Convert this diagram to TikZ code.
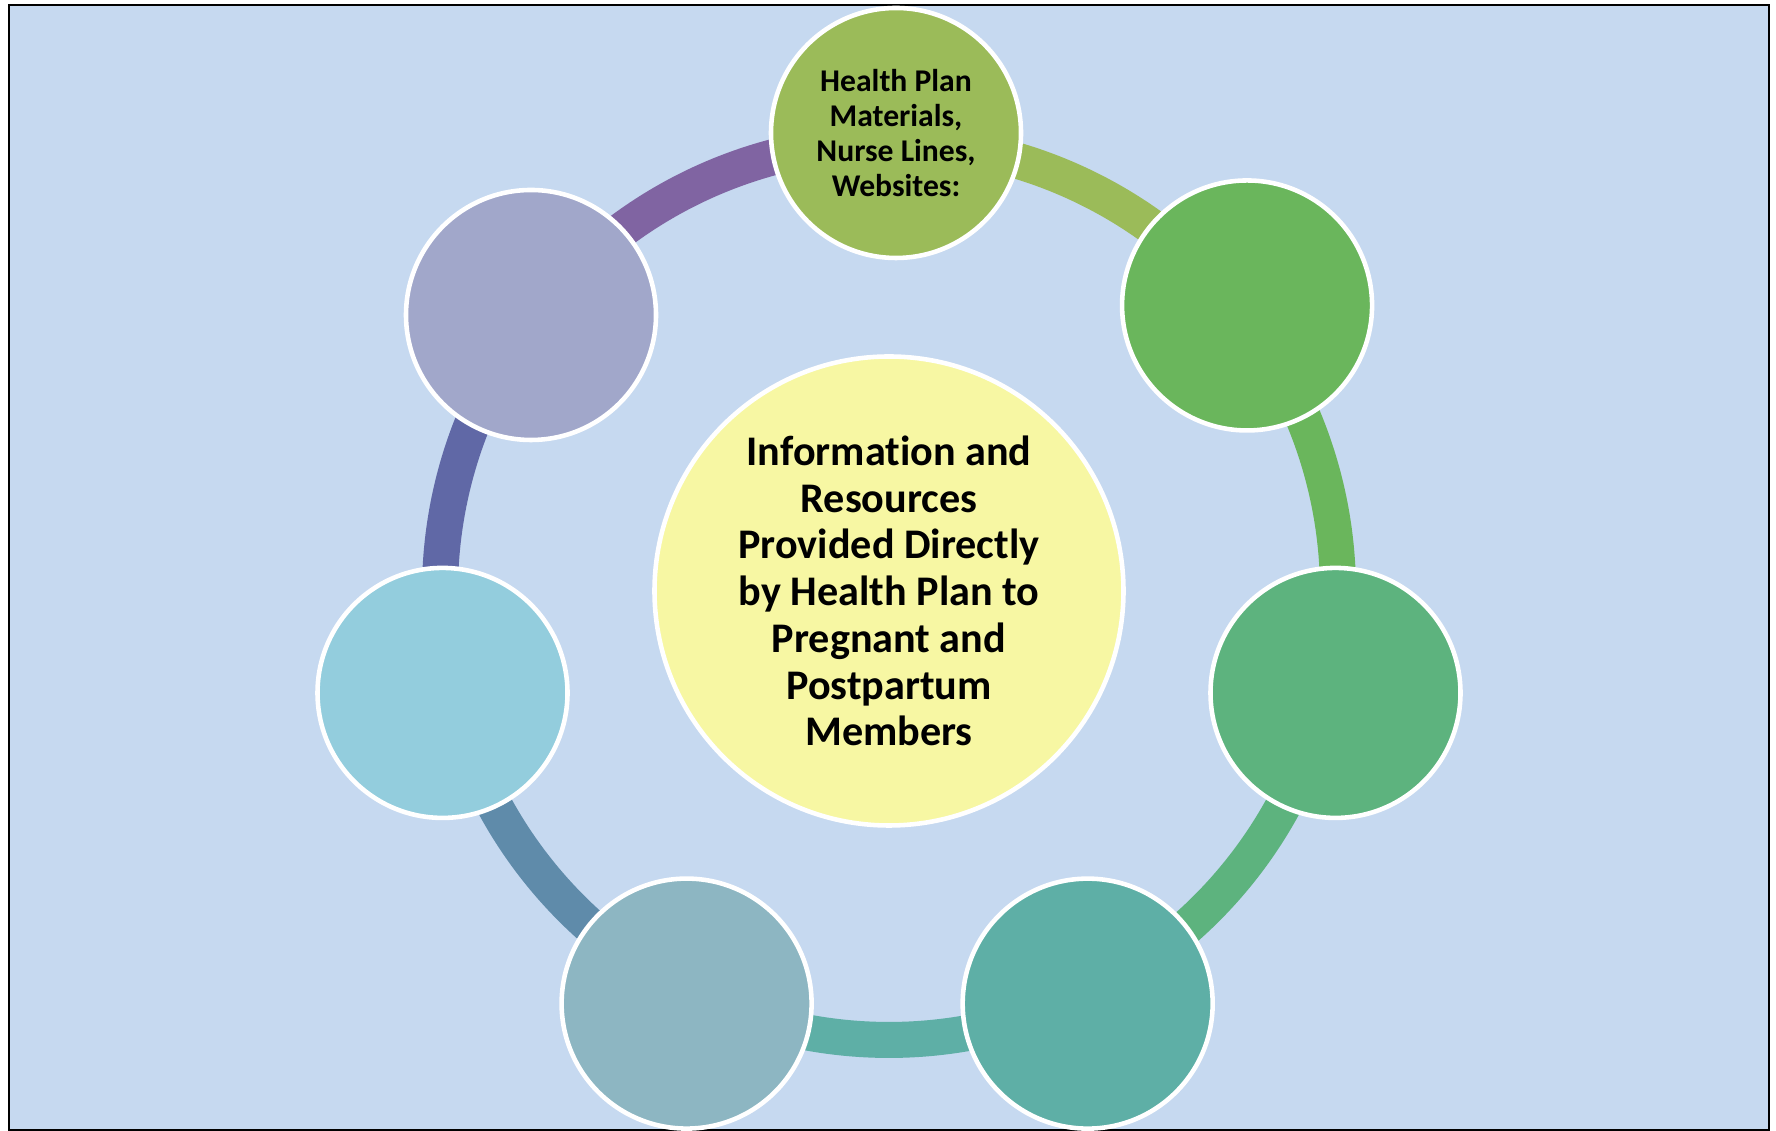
\documentclass[tikz,border=0pt]{standalone}
\usepackage{fontspec}
\setmainfont{Carlito}[Ligatures=NoCommon]
\definecolor{bgblue}{HTML}{C6D9F0}
\definecolor{hubyellow}{HTML}{F7F7A3}
\definecolor{petalA}{HTML}{9BBB59}
\definecolor{petalB}{HTML}{6AB65C}
\definecolor{petalC}{HTML}{5DB37E}
\definecolor{petalD}{HTML}{5EAFA6}
\definecolor{petalE}{HTML}{8DB6C2}
\definecolor{petalF}{HTML}{93CDDD}
\definecolor{petalG}{HTML}{A1A7CA}
\definecolor{arcE}{HTML}{5F8BAA}
\definecolor{arcF}{HTML}{6068A6}
\definecolor{arcG}{HTML}{8064A2}
\tikzset{
  petal/.style={circle, draw=white, line width=1.3pt, minimum size=25mm, inner sep=0pt,
    align=center, font=\bfseries\fontsize{9}{9.9}\selectfont},
  hubdisc/.style={circle, draw=white, fill=hubyellow, line width=1.3pt, minimum size=46.9mm,
    inner sep=0pt, align=center, font=\bfseries\fontsize{12}{13.3}\selectfont},
  ringarc/.style={line width=3.6mm}
}
\begin{document}
\begin{tikzpicture}[x=0.1mm,y=0.1mm]
  \useasboundingbox (0,0) rectangle (1776,1131);
  \draw[line width=0.7pt, fill=bgblue] (9,1) rectangle (1769,1126);
  % centre disc
  \node[hubdisc] (hub) at (889,540) {Information and\\Resources\\Provided Directly\\by Health Plan to\\Pregnant and\\Postpartum\\Members};
  % ring segments, under the petals
  \draw[ringarc, draw=petalA] ([shift={(90:449)}]hub.center) arc[start angle=90, end angle=38.57, radius=449];
  \draw[ringarc, draw=petalB] ([shift={(38.57:449)}]hub.center) arc[start angle=38.57, end angle=-12.86, radius=449];
  \draw[ringarc, draw=petalC] ([shift={(-12.86:449)}]hub.center) arc[start angle=-12.86, end angle=-64.29, radius=449];
  \draw[ringarc, draw=petalD] ([shift={(-64.29:449)}]hub.center) arc[start angle=-64.29, end angle=-115.71, radius=449];
  \draw[ringarc, draw=arcE] ([shift={(-115.71:449)}]hub.center) arc[start angle=-115.71, end angle=-167.14, radius=449];
  \draw[ringarc, draw=arcF] ([shift={(192.86:449)}]hub.center) arc[start angle=192.86, end angle=141.43, radius=449];
  \draw[ringarc, draw=arcG] ([shift={(141.43:449)}]hub.center) arc[start angle=141.43, end angle=90, radius=449];
  % petals
  \node[petal, fill=petalA] (materials) at ([shift={(7,458)}]hub.center) {Health Plan\\Materials,\\Nurse Lines,\\Websites:};
  \node[petal, fill=petalB] (petalupright) at ([shift={(38.57:458)}]hub.center) {};
  \node[petal, fill=petalC] (petalright) at ([shift={(-12.86:458)}]hub.center) {};
  \node[petal, fill=petalD] (petaldownright) at ([shift={(-64.29:458)}]hub.center) {};
  \node[petal, fill=petalE] (petaldownleft) at ([shift={(-202.4,-412.6)}]hub.center) {};
  \node[petal, fill=petalF] (petalleft) at ([shift={(192.86:458)}]hub.center) {};
  \node[petal, fill=petalG] (petalupleft) at ([shift={(-358,276)}]hub.center) {};
\end{tikzpicture}
\end{document}
